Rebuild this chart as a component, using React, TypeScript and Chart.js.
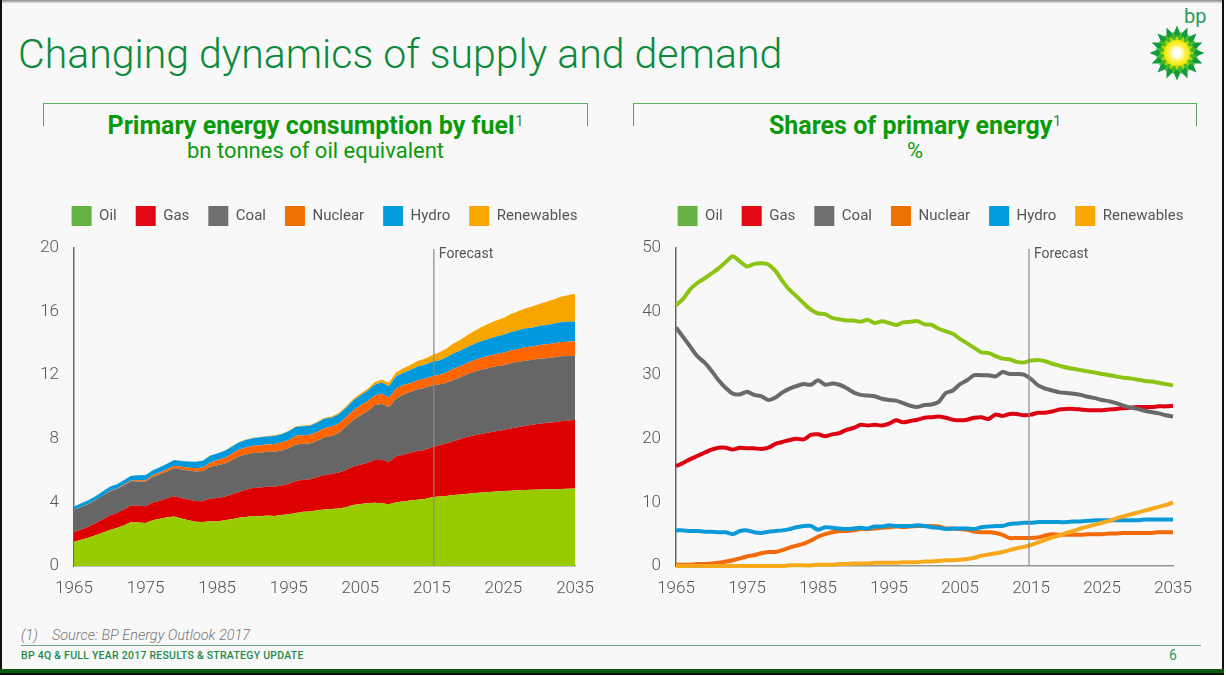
import React, { useEffect, useRef } from "react";
import { Chart, registerables } from "chart.js";

Chart.register(...registerables);

const years = [1965,1966,1967,1968,1969,1970,1971,1972,1973,1974,1975,1976,1977,1978,1979,1980,1981,1982,1983,1984,1985,1986,1987,1988,1989,1990,1991,1992,1993,1994,1995,1996,1997,1998,1999,2000,2001,2002,2003,2004,2005,2006,2007,2008,2009,2010,2011,2012,2013,2014,2015,2016,2017,2018,2019,2020,2021,2022,2023,2024,2025,2026,2027,2028,2029,2030,2031,2032,2033,2034,2035].map(String);
const fuels = ["Oil", "Gas", "Coal", "Nuclear", "Hydro", "Renewables"];

const oilAbs = [1.53,1.65,1.78,1.93,2.09,2.26,2.39,2.57,2.76,2.73,2.71,2.88,2.97,3.07,3.11,2.98,2.87,2.79,2.77,2.81,2.80,2.88,2.94,3.03,3.08,3.14,3.13,3.17,3.15,3.21,3.25,3.33,3.41,3.43,3.50,3.56,3.58,3.61,3.70,3.84,3.90,3.94,3.98,3.95,3.88,4.01,4.06,4.12,4.16,4.21,4.33,4.37,4.41,4.46,4.50,4.55,4.59,4.63,4.66,4.69,4.72,4.74,4.76,4.78,4.80,4.81,4.82,4.83,4.85,4.86,4.87];
const gasAbs = [.59,.64,.69,.76,.84,.91,.95,1.0,1.04,1.06,1.05,1.11,1.14,1.19,1.28,1.29,1.30,1.30,1.31,1.43,1.47,1.48,1.55,1.63,1.71,1.76,1.81,1.81,1.83,1.85,1.92,2.02,2.01,2.03,2.09,2.17,2.20,2.27,2.34,2.42,2.47,2.55,2.68,2.74,2.66,2.89,2.93,3.01,3.07,3.08,3.14,3.23,3.29,3.39,3.49,3.58,3.64,3.69,3.74,3.79,3.83,3.90,3.96,4.03,4.08,4.14,4.18,4.21,4.26,4.29,4.32];
const coalAbs = [1.41,1.42,1.42,1.45,1.50,1.52,1.50,1.51,1.54,1.53,1.55,1.61,1.66,1.68,1.76,1.80,1.83,1.85,1.89,1.98,2.07,2.07,2.15,2.22,2.23,2.21,2.19,2.20,2.20,2.20,2.23,2.29,2.27,2.25,2.28,2.36,2.39,2.49,2.73,2.90,3.09,3.24,3.45,3.52,3.45,3.62,3.78,3.81,3.88,3.91,3.88,3.81,3.81,3.85,3.88,3.94,4.0,4.04,4.06,4.08,4.08,4.11,4.11,4.10,4.08,4.09,4.07,4.08,4.08,4.05,4.03];
const nuclearAbs = [.01,.01,.01,.01,.01,.02,.03,.04,.05,.07,.09,.10,.12,.14,.15,.17,.19,.21,.23,.28,.33,.36,.40,.43,.44,.45,.47,.48,.49,.50,.52,.55,.54,.55,.57,.59,.59,.60,.59,.62,.63,.63,.62,.62,.61,.63,.61,.55,.57,.57,.58,.60,.66,.70,.70,.71,.72,.74,.76,.77,.78,.81,.82,.85,.85,.86,.87,.88,.90,.91,.91];
const hydroAbs = [.21,.22,.23,.24,.25,.27,.27,.29,.28,.31,.32,.32,.32,.35,.37,.37,.38,.40,.42,.44,.40,.44,.45,.46,.46,.48,.49,.48,.51,.52,.55,.55,.56,.56,.58,.59,.57,.58,.58,.62,.64,.65,.67,.71,.71,.77,.78,.83,.86,.88,.90,.92,.94,.96,.98,1.0,1.03,1.05,1.08,1.11,1.13,1.14,1.16,1.17,1.18,1.19,1.22,1.23,1.24,1.25,1.25];
const renewablesAbs = [0,0,0,0,0,0,0,0,0,0,0,0,0,0,0,.01,.01,.01,.01,.01,.01,.02,.02,.02,.03,.03,.03,.04,.04,.04,.04,.05,.05,.05,.06,.06,.07,.08,.09,.10,.11,.12,.15,.19,.21,.25,.27,.32,.36,.39,.43,.50,.56,.63,.68,.75,.81,.89,.95,1.0,1.06,1.13,1.20,1.27,1.33,1.39,1.46,1.53,1.60,1.67,1.75];

const oilShare = [41,42,43.5,44.5,45.2,46,46.8,47.8,48.7,47.9,47.1,47.5,47.6,47.4,46.4,44.8,43.4,42.4,41.3,40.3,39.7,39.6,39,38.8,38.6,38.6,38.4,38.7,38.2,38.5,38.2,37.9,38.3,38.4,38.5,38,37.9,37.3,36.9,36.5,35.7,35,34.3,33.6,33.5,33,32.6,32.5,32.1,32,32.3,32.4,32.2,31.8,31.5,31.2,31,30.8,30.6,30.4,30.2,30,29.8,29.6,29.5,29.3,29.1,29,28.8,28.6,28.4];
const gasShare = [15.7,16.2,16.8,17.3,17.8,18.3,18.6,18.6,18.3,18.6,18.5,18.5,18.4,18.6,19.2,19.5,19.8,20,19.9,20.6,20.7,20.4,20.7,20.9,21.4,21.7,22.2,22.1,22.2,22.1,22.4,22.9,22.6,22.8,23,23.3,23.4,23.5,23.3,23,22.9,23,23.3,23.4,23.1,23.8,23.6,23.9,23.9,23.7,23.8,24.1,24.1,24.3,24.6,24.7,24.7,24.6,24.5,24.5,24.5,24.6,24.7,24.8,24.9,25,25,25,25.1,25.1,25.2];
const coalShare = [37.5,36,34.5,33,32,30.7,29.2,28,27.1,27,27.4,26.9,26.7,26.1,26.5,27.3,27.9,28.3,28.6,28.5,29.2,28.5,28.7,28.5,28,27.3,26.9,26.8,26.7,26.3,26.1,26,25.6,25.2,25,25.3,25.4,25.8,27.2,27.6,28.6,29.2,30,30,30,29.8,30.5,30.2,30.2,30.1,29.4,28.4,27.9,27.6,27.3,27.2,27.1,26.9,26.6,26.4,26.1,25.9,25.6,25.2,24.9,24.7,24.4,24.2,24,23.7,23.5];
const nuclearShare = [.2,.2,.2,.3,.3,.4,.5,.7,.9,1.2,1.5,1.7,2,2.2,2.2,2.5,2.9,3.2,3.5,4,4.6,5,5.3,5.5,5.5,5.6,5.8,5.8,5.9,6,6.1,6.2,6.1,6.2,6.3,6.3,6.3,6.2,5.9,5.9,5.8,5.7,5.4,5.3,5.3,5.2,4.9,4.4,4.4,4.4,4.4,4.5,4.8,5,4.9,4.9,4.9,4.9,5,5,5,5.1,5.1,5.2,5.2,5.2,5.2,5.2,5.3,5.3,5.3];
const hydroShare = [5.6,5.6,5.5,5.5,5.4,5.4,5.3,5.3,5,5.5,5.6,5.3,5.2,5.4,5.5,5.6,5.8,6.1,6.3,6.3,5.7,6.1,6,5.9,5.8,5.9,6,5.9,6.2,6.2,6.4,6.3,6.3,6.3,6.4,6.3,6.1,6,5.8,5.9,5.9,5.9,5.8,6.1,6.2,6.3,6.3,6.6,6.7,6.8,6.8,6.9,6.9,6.9,6.9,6.9,7,7,7.1,7.2,7.2,7.2,7.2,7.2,7.2,7.2,7.3,7.3,7.3,7.3,7.3];
const renewablesShare = [0,0,0,0,0,0,0,0,0,0,0,0,0,0,0,0,.1,.1,.1,.1,.2,.2,.2,.3,.3,.4,.4,.4,.5,.5,.5,.5,.6,.6,.6,.7,.7,.8,.9,.9,1,1.1,1.3,1.6,1.8,2,2.2,2.5,2.8,3,3.3,3.7,4.1,4.5,4.8,5.2,5.5,5.9,6.2,6.5,6.8,7.1,7.5,7.8,8.1,8.4,8.7,9,9.3,9.6,10];

const areaColors = ["#99cc00", "#dd0000", "#666666", "#ff6600", "#0099dd", "#f7a600"];
const lineColors = ["#8cc414", "#dd0011", "#6a6a6a", "#f26a0a", "#0a9ad8", "#f7a81b"];
const swatchColors = ["#66b345", "#e30613", "#706f6f", "#ee7203", "#009ddf", "#f8a800"];
const uiFont = "Roboto";
const inkGrey = "#555555";

function makeChart(canvas: HTMLCanvasElement, kind: "area" | "line") {
  const isArea = kind === "area";
  const series = isArea
    ? [oilAbs, gasAbs, coalAbs, nuclearAbs, hydroAbs, renewablesAbs]
    : [oilShare, gasShare, coalShare, nuclearShare, hydroShare, renewablesShare];
  const legendCentre = isArea ? 324.5 : 315.5;
  const forecastNudge = isArea ? 2 : -2;
  const forecastPlugin = {
    id: "forecast",
    beforeLayout(chart: any) {
      const legend = chart.legend;
      if (!legend._tallFit) {
        const baseFit = legend.fit;
        legend.fit = function () {
          baseFit.call(this);
          this.height += 12;
        };
        legend._tallFit = true;
      }
    },
    afterLayout(chart: any) {
      const half = (chart.legend.right - chart.legend.left) / 2;
      chart.legend.left = legendCentre - half;
      chart.legend.right = legendCentre + half;
    },
    afterDatasetsDraw(chart: any) {
      const x = chart.scales.x.getPixelForValue(years.indexOf("2015")) + forecastNudge;
      const { ctx, chartArea } = chart;
      ctx.save();
      ctx.strokeStyle = "#8a8a8a";
      ctx.lineWidth = 1.2;
      ctx.beginPath();
      ctx.moveTo(x, chartArea.top + 1);
      ctx.lineTo(x, chartArea.bottom);
      ctx.stroke();
      ctx.fillStyle = inkGrey;
      ctx.font = `14px ${uiFont}`;
      ctx.textBaseline = "middle";
      ctx.fillText("Forecast", x + 5, chartArea.top + 6);
      ctx.restore();
    },
  };
  return new Chart(canvas, {
    type: "line",
    data: {
      labels: years,
      datasets: fuels.map((name, i) => ({
        label: name,
        data: series[i],
        borderColor: isArea ? areaColors[i] : lineColors[i],
        backgroundColor: areaColors[i],
        borderWidth: isArea ? 0 : 4,
        pointRadius: 0,
        tension: isArea ? 0 : 0.25,
        fill: isArea ? (i === 0 ? "origin" : "-1") : false,
        clip: false,
        order: isArea ? 0 : 6 - i,
      })),
    },
    options: {
      animation: false,
      responsive: false,
      events: [],
      layout: {
        autoPadding: false,
        padding: isArea
          ? { left: 10, right: 35, top: 4, bottom: 0 }
          : { left: 6, right: 53, top: 4, bottom: 0 },
      },
      plugins: {
        tooltip: { enabled: false },
        legend: {
          position: "top",
          labels: {
            boxWidth: 20,
            boxHeight: 20,
            padding: 19,
            color: inkGrey,
            font: { family: uiFont, size: 15 },
            generateLabels: () =>
              fuels.map((text, i) => ({
                text,
                fillStyle: swatchColors[i],
                strokeStyle: swatchColors[i],
                lineWidth: 0,
                hidden: false,
                datasetIndex: i,
                fontColor: inkGrey,
              })),
          },
        },
      },
      scales: {
        x: {
          grid: { display: false, drawTicks: false },
          border: { color: "#8f9a8f", width: 1.5 },
          afterFit: (s: any) => { s.height = 40; },
          ticks: {
            autoSkip: false,
            maxRotation: 0,
            padding: 13,
            color: inkGrey,
            font: { family: uiFont, size: 17, weight: "300" },
            callback: (_v: any, i: number) => ((+years[i] - 1965) % 10 === 0 ? years[i] : ""),
          },
        },
        y: {
          stacked: isArea,
          min: 0,
          max: isArea ? 20 : 50,
          grid: { display: false, drawTicks: false },
          border: { color: "#666666", width: 1.5 },
          afterFit: (s: any) => { s.width = isArea ? 64 : 55; },
          ticks: {
            stepSize: isArea ? 4 : 10,
            padding: 15,
            color: inkGrey,
            font: { family: uiFont, size: 17, weight: "300" },
          },
        },
      },
    },
    plugins: [forecastPlugin],
  } as any);
}

function ChartCanvas({ kind, left, width }: { kind: "area" | "line"; left: number; width: number }) {
  const ref = useRef<HTMLCanvasElement>(null);
  useEffect(() => {
    const c = makeChart(ref.current!, kind);
    return () => c.destroy();
  }, [kind]);
  return <canvas ref={ref} width={width} height={423} style={{ position: "absolute", left, top: 183, width, height: 423 }} />;
}

function Sunburst() {
  const rays = (n: number, outer: number, inner: number, rot: number) => {
    const pts: string[] = [];
    for (let i = 0; i < n * 2; i++) {
      const r = i % 2 === 0 ? outer : inner;
      const a = (Math.PI * i) / n + rot;
      pts.push(`${(r * Math.sin(a)).toFixed(2)},${(-r * Math.cos(a)).toFixed(2)}`);
    }
    return pts.join(" ");
  };
  return (
    <svg width={60} height={60} viewBox="-30 -30 60 60" style={{ position: "absolute", left: 1147, top: 23 }}>
      <defs>
        <radialGradient id="sunCore">
          <stop offset="0.3" stopColor="#ffffff" />
          <stop offset="0.6" stopColor="#fff15a" />
          <stop offset="1" stopColor="#f2e600" />
        </radialGradient>
      </defs>
      <polygon points={rays(16, 27.5, 19, 0)} fill="#129a3e" />
      <polygon points={rays(16, 22, 15, Math.PI / 16)} fill="#45b82c" />
      <polygon points={rays(16, 18, 12, 0)} fill="#b9d80a" />
      <circle r={13} fill="url(#sunCore)" />
    </svg>
  );
}

function Panel({ left, width, title, sub }: { left: number; width: number; title: string; sub: string }) {
  return (
    <>
      <div style={{ position: "absolute", left, top: 103, width: width - 2, height: 22, borderTop: "1.5px solid #5fb060", borderLeft: "1px solid #5f9a60", borderRight: "1px solid #5f9a60" }} />
      <div style={{ position: "absolute", left, top: 111, width, textAlign: "center", color: "#0a9a0a", font: `700 25px/30px ${uiFont}`, whiteSpace: "nowrap" }}>
        {title}
        <sup style={{ fontWeight: 400, fontSize: 14, lineHeight: 0, verticalAlign: 8, marginLeft: 1, color: "#3a7a3a" }}>1</sup>
      </div>
      <div style={{ position: "absolute", left, top: 138, width, textAlign: "center", color: "#0a9a0a", font: `400 22px/26px ${uiFont}` }}>{sub}</div>
    </>
  );
}

export default function App() {
  return (
    <div style={{ position: "fixed", inset: 0, background: "#ffffff", overflow: "hidden", fontFamily: uiFont }}>
      <div style={{ position: "absolute", left: 0, top: 0, width: 1222, height: 675, background: "#f8f8f8" }} />
      <div style={{ position: "absolute", left: 0, top: 0, width: 1224, height: 3, background: "linear-gradient(#8a8a8a,#e0e0e0)" }} />
      <div style={{ position: "absolute", left: 0, top: 0, width: 2, height: 675, background: "#111" }} />
      <div style={{ position: "absolute", left: 1222, top: 0, width: 2, height: 675, background: "#111" }} />
      <div style={{ position: "absolute", left: 0, width: 1224, top: 669, height: 4, background: "#0a5a14" }} />
      <div style={{ position: "absolute", left: 0, width: 1224, top: 673, height: 2, background: "#111" }} />

      <div style={{ position: "absolute", left: 18, top: 28, color: "#0b8a3a", font: `300 41px/52px ${uiFont}`, whiteSpace: "nowrap" }}>
        Changing dynamics of supply and demand
      </div>
      <div style={{ position: "absolute", left: 1184, top: 3, color: "#2a9a5a", font: `400 20px/26px ${uiFont}` }}>bp</div>
      <Sunburst />

      <Panel left={43} width={545} title="Primary energy consumption by fuel" sub="bn tonnes of oil equivalent" />
      <Panel left={633} width={564} title="Shares of primary energy" sub="%" />

      <ChartCanvas kind="area" left={0} width={610} />
      <ChartCanvas kind="line" left={615} width={611} />

      <div style={{ position: "absolute", left: 21, top: 628, color: "#777", font: `italic 300 14.5px/16px ${uiFont}`, whiteSpace: "pre" }}>
        (1)    Source: BP Energy Outlook 2017
      </div>
      <div style={{ position: "absolute", left: 21, width: 1180, top: 645, height: 1, background: "#6aaa88" }} />
      <div style={{ position: "absolute", left: 21, top: 650, color: "#1f8a4c", font: `500 10.5px/12px ${uiFont}`, letterSpacing: 0.25, whiteSpace: "nowrap" }}>
        BP 4Q &amp; FULL YEAR 2017 RESULTS &amp; STRATEGY UPDATE
      </div>
      <div style={{ position: "absolute", left: 1169, top: 647, color: "#2a9a5a", font: `400 14px/16px ${uiFont}` }}>6</div>
    </div>
  );
}
